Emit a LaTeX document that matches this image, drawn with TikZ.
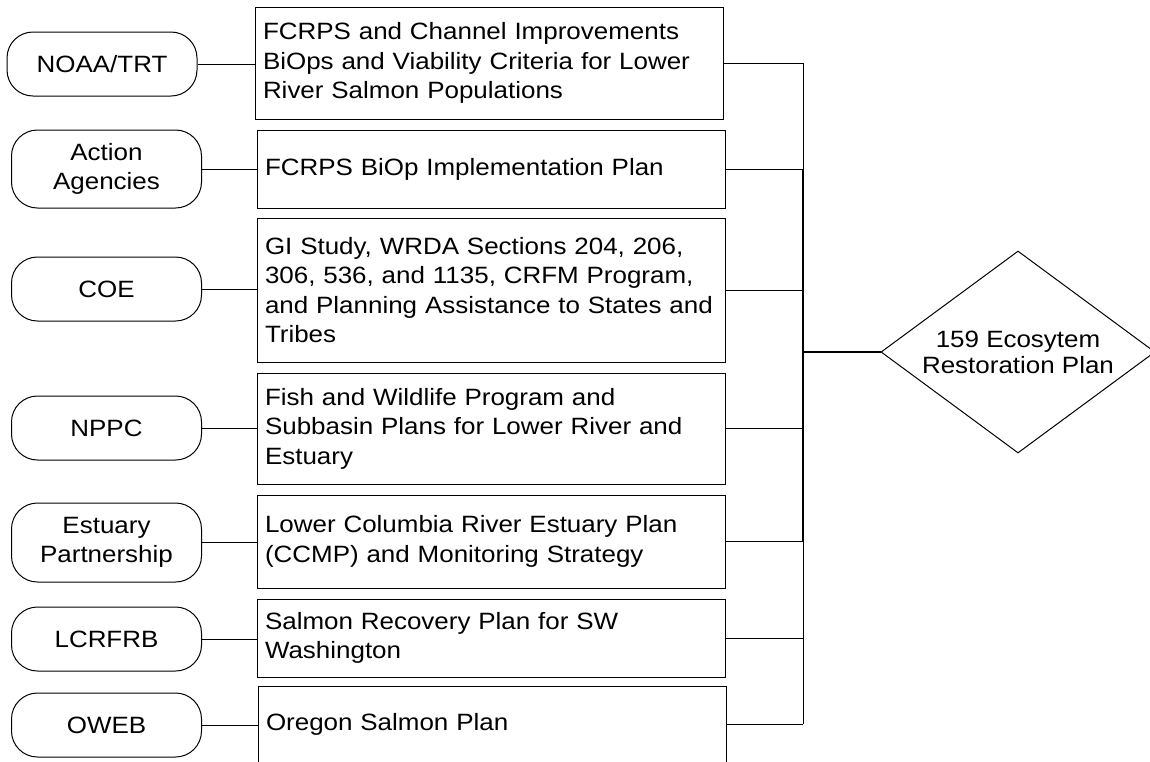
\documentclass[tikz,border=0pt]{standalone}
\usepackage{fontspec}
\setmainfont{Liberation Sans}[FakeStretch=1.1]
\usetikzlibrary{shapes.geometric}
\tikzset{
  agency/.style={draw,rounded corners=13pt,align=center,minimum width=95pt,inner sep=2pt,line width=.5pt,font=\fontsize{11.8}{14.8}\selectfont},
  planbox/.style={draw,align=left,text width=226pt,inner xsep=4pt,inner ysep=2pt,line width=.5pt,font=\fontsize{11.8}{14.8}\selectfont},
  goal/.style={draw,diamond,aspect=1.356,minimum width=137pt,minimum height=101pt,inner sep=0pt,align=center,line width=.5pt,font=\fontsize{11.8}{13}\selectfont},
  link/.style={line width=.5pt},
  trunk/.style={line width=1pt}
}
\begin{document}
\begin{tikzpicture}[x=.5pt,y=-.5pt]
  \useasboundingbox (0,0) rectangle (1150,761);
  \node[agency,minimum height=32pt] (noaa) at (102,64) {NOAA/TRT};
  \node[agency,minimum height=39pt] (aa) at (106.5,169) {Action\\Agencies};
  \node[agency,minimum height=32pt] (coe) at (106.5,289) {COE};
  \node[agency,minimum height=32pt] (nppc) at (106.5,428) {NPPC};
  \node[agency,minimum height=39.5pt] (ep) at (106.5,542.5) {Estuary\\Partnership};
  \node[agency,minimum height=32pt] (lcr) at (106.5,639) {LCRFRB};
  \node[agency,minimum height=32pt] (oweb) at (106.5,725) {OWEB};

  \node[planbox,minimum height=56pt] (bops) at (489,63) {FCRPS and Channel Improvements\\BiOps and Viability Criteria for Lower\\River Salmon Populations};
  \node[planbox,minimum height=39pt] (impl) at (491,169) {FCRPS BiOp Implementation Plan};
  \node[planbox,minimum height=72pt] (gistudy) at (491,290) {GI Study, WRDA Sections 204, 206,\\306, 536, and 1135, CRFM Program,\\and Planning Assistance to States and\\Tribes};
  \node[planbox,minimum height=55.5pt] (fwprog) at (491,428.5) {Fish and Wildlife Program and\\Subbasin Plans for Lower River and\\Estuary};
  \node[planbox,minimum height=46.5pt] (lcep) at (491,541.5) {Lower Columbia River Estuary Plan\\(CCMP) and Monitoring Strategy};
  \node[planbox,minimum height=39pt] (srp) at (491,638) {Salmon Recovery Plan for SW\\Washington};
  \node[planbox,minimum height=38pt] (osp) at (492,724) {Oregon Salmon Plan};

  \node[goal] (eco) at (1018,352) {159 Ecosytem\\Restoration Plan};
  \coordinate (bus) at (803,352);

  \draw[link] (noaa.east) -- (noaa.east -| bops.west);
  \draw[link] (aa.east) -- (aa.east -| impl.west);
  \draw[link] (coe.east) -- (coe.east -| gistudy.west);
  \draw[link] (nppc.east) -- (nppc.east -| fwprog.west);
  \draw[link] (ep.east) -- (ep.east -| lcep.west);
  \draw[link] (lcr.east) -- (lcr.east -| srp.west);
  \draw[link] (oweb.east) -- (oweb.east -| osp.west);

  \draw[link] (bops.east) -- (bops.east -| bus); \draw[link] (impl.east) -- (impl.east -| bus);
  \draw[link] (gistudy.east) -- (gistudy.east -| bus); \draw[link] (fwprog.east) -- (fwprog.east -| bus);
  \draw[link] (lcep.east) -- (lcep.east -| bus); \draw[link] (srp.east) -- (srp.east -| bus);
  \draw[link] (osp.east) -- (osp.east -| bus);
  \draw[link] (bops.east -| bus) -- (osp.east -| bus);
  \draw[trunk] (impl.east -| bus) -- (lcep.east -| bus);
  \draw[trunk] (bus) -- (eco.west);
\end{tikzpicture}
\end{document}
